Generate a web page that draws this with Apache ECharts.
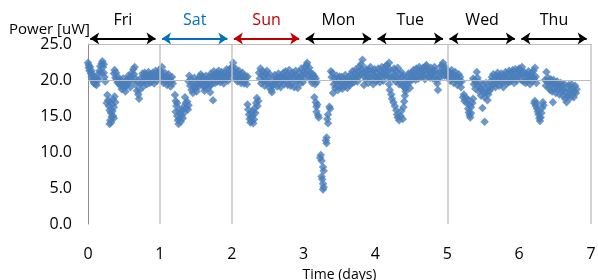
<!DOCTYPE html>
<html><head><meta charset="utf-8">
<script src="https://cdn.jsdelivr.net/npm/echarts@6/dist/echarts.min.js"></script>
<style>html,body{margin:0;padding:0;background:#fff}#c{width:598px;height:280px}</style>
</head><body><div id="c"></div>
<script>
// Data: [time (days), power (uW)]
const fri = [[0.00,22.4],[0.01,21.7],[0.01,22.1],[0.02,21.3],[0.03,21.8],[0.04,20.9],[0.05,20.4],[0.05,21.3],[0.06,20.0],[0.07,20.7],[0.08,19.6],[0.09,20.2],[0.10,19.4],[0.11,19.9],[0.12,19.3],[0.13,20.2],[0.14,20.8],[0.15,20.0],[0.16,21.3],[0.17,21.9],[0.18,21.0],[0.19,22.3],[0.20,22.6],[0.21,21.8],[0.22,21.0],[0.23,20.4],[0.24,19.8],[0.22,22.2],
[0.27,17.9],[0.28,17.2],[0.26,16.8],[0.29,16.4],[0.31,17.0],[0.33,16.6],[0.35,17.3],[0.37,17.7],[0.38,16.9],[0.36,16.2],[0.34,15.7],[0.32,15.4],[0.33,14.9],[0.31,14.4],[0.30,13.9],[0.32,14.1],[0.35,15.0],[0.36,14.7],[0.30,15.8],
[0.36,20.9],[0.37,21.4],[0.38,20.3],[0.39,21.0],[0.40,20.1],[0.41,19.7],[0.42,20.4],[0.43,19.5],[0.44,20.0],[0.45,19.2],[0.46,19.8],[0.47,18.7],[0.48,19.4],[0.49,20.2],[0.50,18.9],[0.51,19.6],[0.52,18.4],[0.53,19.1],[0.54,20.0],[0.55,19.4],[0.56,20.6],[0.57,19.8],[0.58,20.3],[0.59,19.0],[0.60,20.5],[0.61,21.0],[0.62,19.9],[0.63,21.5],[0.64,20.8],[0.65,21.8],[0.66,20.2],[0.67,19.3],[0.68,18.5],[0.69,19.8],[0.70,18.0],[0.71,17.4],[0.72,18.6],[0.73,19.5],[0.74,20.3],[0.75,19.7],[0.76,20.9],[0.77,19.1],[0.78,20.4],[0.79,21.0],[0.80,19.9],[0.81,20.6],[0.82,19.4],[0.83,20.2],[0.84,21.1],[0.85,20.5],[0.86,19.6],[0.87,20.8],[0.88,19.8],[0.89,20.3],[0.90,21.0],[0.91,20.1],[0.92,19.5],[0.93,20.7],[0.94,21.3],[0.95,20.4],[0.96,19.9],[0.97,20.9],[0.98,20.2],[0.99,21.4],[1.00,20.6]];
const sat = [[1.01,21.2],[1.02,20.0],[1.03,21.8],[1.04,20.7],[1.05,19.6],[1.06,20.4],[1.07,21.0],[1.08,19.8],[1.09,20.5],[1.10,19.3],[1.11,20.1],[1.12,20.8],[1.13,19.7],[1.14,20.3],[1.15,19.1],[1.16,19.8],[1.17,20.4],[1.18,19.5],
[1.21,17.9],[1.22,17.1],[1.23,16.4],[1.22,15.6],[1.24,15.0],[1.25,14.4],[1.26,13.9],[1.27,14.6],[1.28,15.3],[1.29,14.2],[1.30,15.0],[1.31,15.8],[1.32,14.7],[1.33,16.3],[1.34,15.5],[1.35,17.6],[1.36,16.8],[1.37,16.1],[1.38,17.0],[1.39,15.9],[1.40,16.5],[1.24,16.8],[1.27,15.8],
[1.40,19.8],[1.41,20.6],[1.42,19.2],[1.43,20.1],[1.44,18.6],[1.45,19.5],[1.46,18.2],[1.47,19.0],[1.48,20.3],[1.49,18.8],[1.50,19.6],[1.51,18.4],[1.52,19.3],[1.53,20.0],[1.54,19.1],[1.55,20.4],[1.56,19.5],[1.57,20.8],[1.58,19.8],[1.59,20.5],[1.60,19.3],[1.61,20.2],[1.62,19.0],[1.63,19.8],[1.64,20.6],[1.65,19.4],[1.66,20.1],[1.67,18.9],[1.68,19.7],[1.69,20.4],[1.70,19.2],[1.71,20.9],[1.72,20.0],[1.73,19.5],[1.74,20.7],[1.75,21.2],[1.76,20.3],[1.77,19.6],[1.78,20.5],[1.79,21.0],[1.80,19.8],[1.81,20.6],[1.82,21.3],[1.83,20.2],[1.84,19.7],[1.85,20.8],[1.86,21.1],[1.87,20.0],[1.88,20.7],[1.89,19.5],[1.90,20.4],[1.91,21.0],[1.92,20.1],[1.93,21.5],[1.94,20.6],[1.95,19.9],[1.96,20.8],[1.97,21.4],[1.98,20.3],[1.99,21.7],[2.00,20.9],[1.74,17.2],[1.62,18.5],[1.70,18.3]];
const sun = [[2.01,21.8],[2.02,22.4],[2.03,21.2],[2.04,20.5],[2.05,21.6],[2.06,20.2],[2.07,21.0],[2.08,19.8],[2.09,20.6],[2.10,21.3],[2.11,20.0],[2.12,20.8],[2.13,19.6],[2.14,20.4],[2.15,21.0],[2.16,20.1],[2.17,19.5],[2.18,20.6],[2.19,19.9],[2.20,20.3],[2.21,19.4],[2.22,20.5],
[2.22,16.6],[2.23,15.9],[2.24,15.2],[2.25,14.6],[2.26,14.1],[2.27,14.8],[2.28,14.3],[2.29,15.0],[2.30,15.6],[2.31,14.5],[2.32,16.1],[2.33,15.4],[2.34,16.8],[2.35,17.5],[2.36,16.4],[2.37,17.1],[2.27,15.5],[2.30,14.0],
[2.38,21.0],[2.39,20.2],[2.40,21.6],[2.41,19.5],[2.42,20.7],[2.43,21.2],[2.44,19.8],[2.45,20.5],[2.46,19.2],[2.47,20.9],[2.48,20.0],[2.49,21.3],[2.50,19.6],[2.51,20.4],[2.52,19.0],[2.53,20.8],[2.54,19.5],[2.55,18.6],[2.56,18.3],[2.57,19.2],[2.58,20.1],[2.59,19.4],[2.60,20.7],[2.61,19.8],[2.62,20.3],[2.63,19.1],[2.64,20.0],[2.65,20.9],[2.66,19.6],[2.67,20.4],[2.68,19.0],[2.69,20.6],[2.70,19.8],[2.71,20.2],[2.72,21.0],[2.73,19.4],[2.74,20.5],[2.75,21.2],[2.76,19.9],[2.77,20.7],[2.78,19.3],[2.79,20.3],[2.80,21.4],[2.81,20.1],[2.82,19.2],[2.83,20.8],[2.84,19.6],[2.85,21.0],[2.86,20.3],[2.87,19.0],[2.88,20.6],[2.89,21.3],[2.90,19.8],[2.91,20.5],[2.92,18.9],[2.93,20.0],[2.94,21.1],[2.95,19.5],[2.96,20.4],[2.97,21.6],[2.98,20.7],[2.99,19.7],[3.00,21.2]];
const mon = [[3.01,20.3],[3.02,21.8],[3.03,20.9],[3.04,22.1],[3.05,22.4],[3.06,21.3],[3.07,20.6],[3.08,21.7],[3.09,20.1],[3.10,21.0],[3.11,20.4],[3.12,19.6],[3.13,20.8],[3.14,19.9],[3.15,20.5],[3.16,19.4],[3.17,20.2],[3.18,19.7],
[3.15,17.6],[3.17,16.9],[3.18,16.3],[3.19,16.6],[3.18,15.6],[3.20,15.1],[3.21,14.8],[3.36,16.3],[3.37,16.0],[3.34,15.2],[3.33,14.6],[3.34,14.0],[3.32,12.0],[3.31,11.6],[3.32,11.2],[3.24,9.6],[3.23,9.2],[3.25,8.8],[3.27,7.9],[3.28,7.4],[3.25,6.6],[3.26,6.2],[3.27,5.6],[3.28,5.1],[3.27,4.8],
[3.38,21.2],[3.39,20.4],[3.40,21.0],[3.41,18.2],[3.42,19.4],[3.43,20.3],[3.44,18.9],[3.45,19.8],[3.46,20.6],[3.47,19.2],[3.48,18.6],[3.49,19.9],[3.50,20.5],[3.51,19.0],[3.52,19.7],[3.53,20.4],[3.54,18.8],[3.55,19.5],[3.56,20.2],[3.57,19.1],[3.58,20.7],[3.59,19.6],[3.60,20.1],[3.61,18.9],[3.62,19.8],[3.63,20.5],[3.64,19.3],[3.65,20.0],[3.66,20.8],[3.67,19.5],[3.68,21.2],[3.69,20.3],[3.70,19.7],[3.71,21.0],[3.72,20.2],[3.73,21.5],[3.74,20.6],[3.75,19.8],[3.76,21.3],[3.77,20.4],[3.78,21.9],[3.79,20.8],[3.80,22.2],[3.81,21.4],[3.82,22.8],[3.83,21.0],[3.84,19.3],[3.85,20.5],[3.86,21.6],[3.87,20.1],[3.88,21.2],[3.89,20.6],[3.90,19.6],[3.91,21.4],[3.92,20.3],[3.93,21.8],[3.94,20.9],[3.95,20.0],[3.96,21.2],[3.97,19.4],[3.98,20.7],[3.99,21.5],[4.00,20.4]];
const tue = [[4.01,19.8],[4.02,21.0],[4.03,20.2],[4.04,21.6],[4.05,20.6],[4.06,19.7],[4.07,21.2],[4.08,20.5],[4.09,21.8],[4.10,20.9],[4.11,19.9],[4.12,21.4],[4.13,20.6],[4.14,21.9],[4.15,20.8],[4.16,22.1],[4.17,21.3],[4.18,20.4],[4.19,22.4],[4.20,21.5],[4.21,20.3],
[4.19,19.4],[4.20,18.6],[4.22,18.0],[4.23,17.4],[4.25,16.9],[4.27,16.4],[4.29,15.8],[4.30,15.2],[4.31,14.8],[4.33,14.4],[4.35,15.0],[4.36,15.7],[4.38,14.6],[4.39,16.2],[4.40,17.0],[4.41,17.8],[4.42,18.4],
[4.24,21.0],[4.25,20.2],[4.26,21.6],[4.27,20.7],[4.28,19.8],[4.29,21.2],[4.30,20.3],[4.31,21.7],[4.32,20.0],[4.33,19.4],[4.34,20.8],[4.35,19.6],[4.36,21.1],[4.37,20.4],[4.38,19.2],[4.39,20.6],[4.40,19.0],[4.41,20.0],[4.42,18.8],[4.43,19.6],[4.44,20.5],[4.45,19.3],[4.46,20.9],[4.47,19.8],[4.48,18.9],[4.49,20.2],[4.50,21.0],[4.51,20.0],[4.52,20.7],[4.53,21.4],[4.54,20.3],[4.55,21.0],[4.56,20.0],[4.57,21.6],[4.58,20.5],[4.59,21.2],[4.60,20.2],[4.61,21.8],[4.62,20.8],[4.63,21.4],[4.64,20.4],[4.65,21.0],[4.66,21.7],[4.67,20.6],[4.68,21.3],[4.69,20.1],[4.70,21.9],[4.71,22.1],[4.72,20.9],[4.73,21.5],[4.74,20.5],[4.75,21.2],[4.76,20.3],[4.77,21.7],[4.78,20.8],[4.79,21.4],[4.80,20.2],[4.81,21.0],[4.82,21.8],[4.83,20.6],[4.84,21.3],[4.85,20.0],[4.86,19.5],[4.87,18.6],[4.88,20.4],[4.89,21.1],[4.90,20.3],[4.91,21.9],[4.92,21.0],[4.93,22.0],[4.94,22.4],[4.95,21.2],[4.96,20.6],[4.97,21.8],[4.98,20.8],[4.99,21.4],[5.00,20.5]];
const wed = [[5.01,21.3],[5.02,20.4],[5.03,21.0],[5.04,19.9],[5.05,20.7],[5.06,21.4],[5.07,20.2],[5.08,20.9],[5.09,19.6],[5.10,20.5],[5.11,21.1],[5.12,20.0],[5.13,20.6],[5.14,19.3],[5.15,20.2],[5.16,20.8],[5.17,19.7],[5.18,20.4],[5.19,19.0],[5.20,19.8],
[5.22,17.6],[5.23,18.0],[5.24,17.1],[5.26,17.5],[5.27,16.8],[5.29,17.3],[5.31,16.6],[5.33,16.2],[5.35,16.8],[5.36,17.4],[5.29,16.0],[5.30,15.5],[5.31,15.1],[5.32,14.8],[5.33,15.4],[5.49,16.1],[5.52,14.2],
[5.36,20.2],[5.37,19.4],[5.38,20.0],[5.39,18.8],[5.40,19.6],[5.41,21.1],[5.42,20.3],[5.43,19.2],[5.44,18.4],[5.45,19.7],[5.46,18.9],[5.47,17.8],[5.48,18.6],[5.50,19.4],[5.51,18.2],[5.52,17.6],[5.53,18.8],[5.54,19.6],[5.55,18.3],[5.56,17.2],[5.57,18.0],[5.58,19.1],[5.59,18.5],[5.60,19.8],[5.61,18.9],[5.62,20.4],[5.63,19.3],[5.64,20.8],[5.65,19.7],[5.66,20.2],[5.67,19.0],[5.68,20.6],[5.69,19.5],[5.70,21.0],[5.71,20.1],[5.72,19.2],[5.73,20.5],[5.74,19.8],[5.75,20.9],[5.76,19.6],[5.77,20.3],[5.78,19.0],[5.79,20.7],[5.80,19.9],[5.81,21.1],[5.82,20.2],[5.83,19.5],[5.84,20.8],[5.85,19.7],[5.86,21.3],[5.87,20.4],[5.88,19.8],[5.89,21.0],[5.90,20.1],[5.91,21.4],[5.92,20.5],[5.93,19.6],[5.94,20.9],[5.95,21.5],[5.96,20.3],[5.97,19.9],[5.98,21.2],[5.99,20.6],[6.00,21.6]];
const thu = [[6.01,20.7],[6.02,21.3],[6.03,20.0],[6.04,21.8],[6.05,20.9],[6.06,19.8],[6.07,21.1],[6.08,20.4],[6.09,19.6],[6.10,20.8],[6.11,19.9],[6.12,20.5],[6.13,21.2],[6.14,20.1],[6.15,19.4],[6.16,20.6],[6.17,21.0],[6.18,19.8],[6.19,20.4],[6.20,21.3],[6.21,20.2],[6.22,21.7],[6.23,20.5],[6.24,19.6],
[6.21,16.8],[6.22,17.1],[6.23,16.4],[6.25,16.0],[6.26,15.6],[6.27,15.2],[6.28,14.7],[6.29,14.3],[6.30,14.8],[6.31,15.4],[6.32,16.1],[6.33,16.9],[6.34,16.5],[6.24,16.7],[6.47,16.9],
[6.36,20.0],[6.37,19.2],[6.38,21.1],[6.39,19.8],[6.40,20.3],[6.41,19.0],[6.42,19.7],[6.43,18.6],[6.44,20.1],[6.45,19.4],[6.46,18.4],[6.47,19.6],[6.48,20.0],[6.49,18.8],[6.50,19.5],[6.51,18.2],[6.52,19.1],[6.53,19.8],[6.54,18.7],[6.55,19.3],[6.56,18.0],[6.57,19.0],[6.58,19.6],[6.59,18.5],[6.60,19.2],[6.61,17.8],[6.62,18.6],[6.63,19.4],[6.64,17.4],[6.65,18.3],[6.66,16.9],[6.67,17.7],[6.68,18.8],[6.69,19.3],[6.70,18.1],[6.71,17.5],[6.72,18.6],[6.73,19.4],[6.74,18.0],[6.75,18.9],[6.76,17.6],[6.77,18.4],[6.78,19.2],[6.79,18.2],[6.80,18.7]];

const dayNames = ['Fri','Sat','Sun','Mon','Tue','Wed','Thu'];
const yGridValues = [20, 25];
const xGridValues = [1, 2, 5, 7];

// styles
const dayColors = {Sat:'#0070C0', Sun:'#C00000'};
const FONT = 'Open Sans';

const chart = echarts.init(document.getElementById('c'));
const allPoints = [].concat(fri, sat, sun, mon, tue, wed, thu);

chart.setOption({
  animation: false,
  title: {text:'Power [uW]', left: 9, top: 22, padding: 0, textStyle:{fontFamily:FONT, fontSize:15, fontWeight:'normal', color:'#000'}},
  grid: [
    {left: 88, right: 7, top: 44, bottom: 56, outerBoundsMode: 'none', containLabel: false},
    {left: 88, right: 7, top: 0, height: 44, outerBoundsMode: 'none', containLabel: false}
  ],
  xAxis: [{
    type:'value', min:0, max:7, interval:1, gridIndex:0,
    name:'Time (days)', nameLocation:'middle', nameGap:44,
    nameTextStyle:{fontFamily:FONT, fontSize:14, color:'#000'},
    axisLine:{show:false}, axisTick:{show:false}, splitLine:{show:false},
    axisLabel:{fontFamily:FONT, fontSize:16, color:'#000', margin:22}
  },{
    type:'value', min:0, max:7, gridIndex:1, show:false
  }],
  yAxis: [{
    type:'value', min:0, max:25, interval:5, gridIndex:0,
    axisLine:{show:true, lineStyle:{color:'#8c8c8c', width:1}},
    axisTick:{show:false}, splitLine:{show:false},
    axisLabel:{fontFamily:FONT, fontSize:16, color:'#000', margin:16, formatter: v => v.toFixed(1)}
  },{
    type:'value', min:0, max:1, gridIndex:1, show:false
  }],
  series: [
    {
      type:'scatter', data:[], z:1, silent:true,
      markLine:{
        silent:true, symbol:'none', label:{show:false},
        lineStyle:{type:'solid', color:'#c4c4c4', width:1.5},
        data: xGridValues.map(v => ({xAxis:v})).concat(yGridValues.map(v => ({yAxis:v, lineStyle:{width:1, color:'#bdbdbd'}})))
      }
    },
    {
      type:'scatter', data: allPoints, z:2,
      symbol:'diamond', symbolSize:8.5,
      itemStyle:{color:'#4A7EBB'}
    },
    {
      type:'scatter', data:[], z:3, xAxisIndex:1, yAxisIndex:1, silent:true,
      markLine:{
        silent:true, symbol:['arrow','arrow'], symbolSize:9,
        data: dayNames.map((d,i) => {
          const c = dayColors[d] || '#000000';
          const st = {color:c, width:2, type:'solid'};
          return [
            {coord:[i+0.03, 0.125], lineStyle:st, label:{show:true, formatter:d, position:'insideMiddleTop', distance:10, color:c, fontFamily:FONT, fontSize:16}},
            {coord:[i+0.94, 0.125], lineStyle:st}
          ];
        })
      }
    }
  ]
});
</script></body></html>
